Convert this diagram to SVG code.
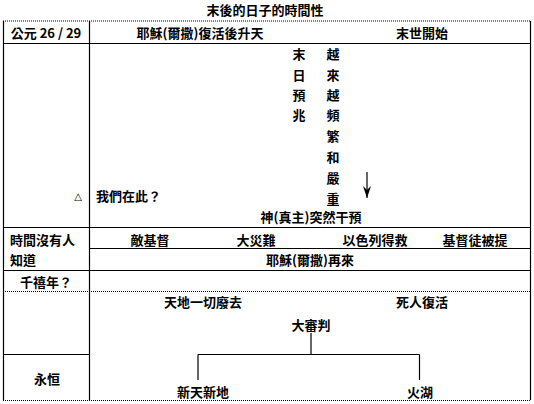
<svg xmlns="http://www.w3.org/2000/svg" width="534" height="404" viewBox="0 0 534 404">
<style>
text{font-family:"Noto Sans CJK TC","Noto Sans CJK SC","Liberation Sans",sans-serif;font-size:13px;font-weight:bold;fill:#000;dominant-baseline:central}
.m{text-anchor:middle}
.grid{stroke:#000;stroke-width:1.2;fill:none}
.dot{stroke:#000;stroke-width:1;stroke-dasharray:1 1;fill:none}
.con{stroke:#000;stroke-width:1.2;fill:none}
</style>
<defs>
<marker id="ah" viewBox="0 0 12 8" refX="12" refY="4" markerWidth="12" markerHeight="8" markerUnits="userSpaceOnUse" orient="auto">
<path d="M0,0 L4,4 L0,8 L12,4 Z" fill="#000"/>
</marker>
</defs>
<rect width="534" height="404" fill="#fff"/>
<g id="title"><text class="m" x="265" y="9">末後的日子的時間性</text></g>
<g id="table">
<line class="dot" x1="3" y1="21" x2="531" y2="21"/>
<line class="dot" x1="3" y1="291.5" x2="531" y2="291.5"/>
<line class="dot" x1="3" y1="400.5" x2="531" y2="400.5"/>
<line class="grid" x1="3.5" y1="21" x2="3.5" y2="400"/>
<line class="grid" x1="530.5" y1="21" x2="530.5" y2="400"/>
<line class="grid" x1="89.5" y1="21" x2="89.5" y2="400"/>
<line class="grid" x1="3" y1="43.5" x2="531" y2="43.5"/>
<line class="grid" x1="3" y1="227.5" x2="531" y2="227.5"/>
<line class="grid" x1="89.5" y1="248.5" x2="531" y2="248.5"/>
<line class="grid" x1="3" y1="270.5" x2="531" y2="270.5"/>
<line class="grid" x1="3" y1="354.5" x2="89.5" y2="354.5"/>
</g>
<g id="connectors">
<line class="con" x1="311" y1="333" x2="311" y2="354.5"/>
<line class="con" x1="198" y1="354.5" x2="419.5" y2="354.5"/>
<line class="con" x1="198" y1="354.5" x2="198" y2="380"/>
<line class="con" x1="419.5" y1="354.5" x2="419.5" y2="380"/>
<line class="con" x1="367" y1="172" x2="367" y2="198" marker-end="url(#ah)"/>
</g>
<g id="n-ad"><text class="m" x="46" y="32">公元 26 / 29</text></g>
<g id="n-ascension"><text class="m" x="200" y="32">耶穌(爾撒)復活後升天</text></g>
<g id="n-lastdays"><text class="m" x="422" y="32">末世開始</text></g>
<g id="n-signs">
<text class="m" x="299" y="53">末</text>
<text class="m" x="299" y="74">日</text>
<text class="m" x="299" y="94">預</text>
<text class="m" x="299" y="114">兆</text>
</g>
<g id="n-frequent">
<text class="m" x="333" y="53">越</text>
<text class="m" x="333" y="74">來</text>
<text class="m" x="333" y="94">越</text>
<text class="m" x="333" y="114">頻</text>
<text class="m" x="333" y="135">繁</text>
<text class="m" x="333" y="156">和</text>
<text class="m" x="333" y="177">嚴</text>
<text class="m" x="333" y="198">重</text>
</g>
<g id="n-triangle"><text class="m" x="78" y="196" style="font-family:'DejaVu Sans',sans-serif;font-weight:normal;font-size:10px">△</text></g>
<g id="n-wehere"><text x="96" y="195">我們在此？</text></g>
<g id="n-intervene"><text class="m" x="311" y="216">神(真主)突然干預</text></g>
<g id="n-noknow"><text x="10" y="239">時間沒有人</text><text x="10" y="259">知道</text></g>
<g id="n-antichrist"><text class="m" x="150" y="239">敵基督</text></g>
<g id="n-tribulation"><text class="m" x="256" y="239">大災難</text></g>
<g id="n-israel"><text class="m" x="375" y="239">以色列得救</text></g>
<g id="n-rapture"><text class="m" x="475" y="239">基督徒被提</text></g>
<g id="n-return"><text class="m" x="310" y="259">耶穌(爾撒)再來</text></g>
<g id="n-millennium"><text class="m" x="46" y="281">千禧年？</text></g>
<g id="n-passaway"><text class="m" x="203" y="301">天地一切廢去</text></g>
<g id="n-resurrection"><text class="m" x="422" y="301">死人復活</text></g>
<g id="n-judgment"><text class="m" x="311" y="324">大審判</text></g>
<g id="n-eternal"><text class="m" x="47" y="378">永恒</text></g>
<g id="n-newearth"><text class="m" x="203" y="391">新天新地</text></g>
<g id="n-lake"><text class="m" x="420" y="391">火湖</text></g>
</svg>
